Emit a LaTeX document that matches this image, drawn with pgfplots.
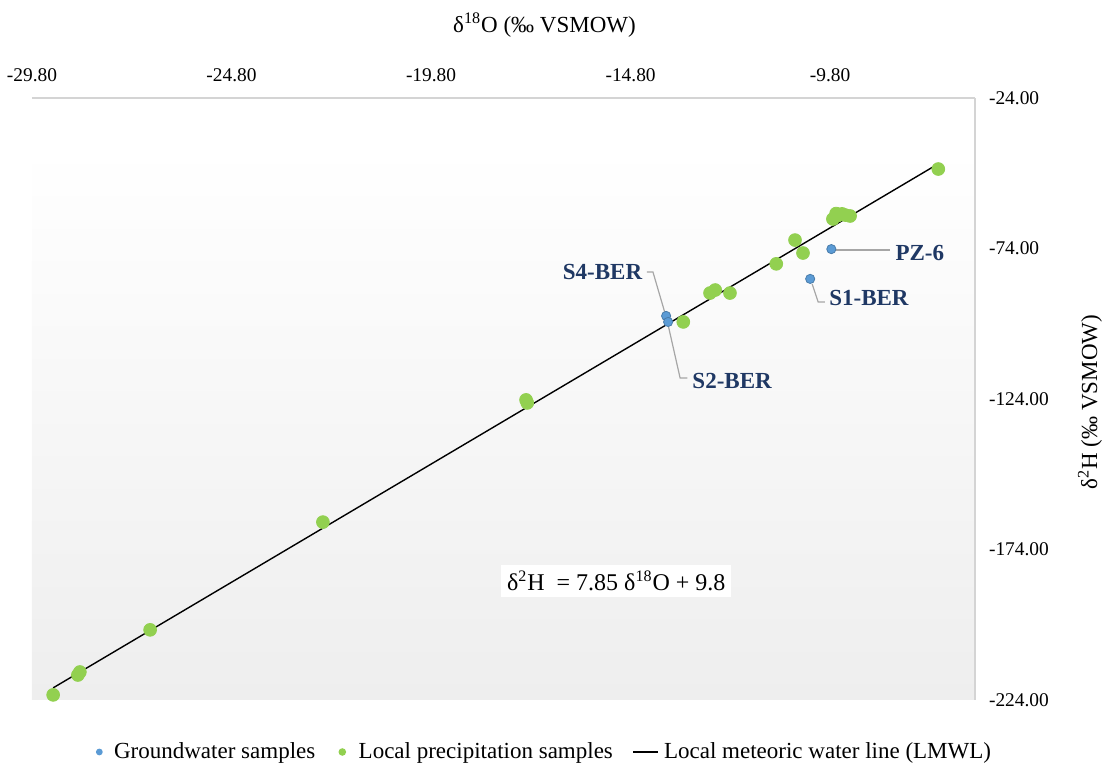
\documentclass[border=0pt]{standalone}
\usepackage{fontspec}
\setmainfont{Liberation Serif}
\usepackage{pgfplots}
\pgfplotsset{compat=1.18}

\definecolor{gwblue}{HTML}{5B9BD5}
\definecolor{prgreen}{HTML}{92D050}
\definecolor{lblnavy}{HTML}{1F3864}
\definecolor{framegray}{HTML}{D4D4D4}
\definecolor{leadergray}{HTML}{A6A6A6}
\definecolor{shadebot}{HTML}{EEEEEE}

\newcommand{\lblfont}{\fontsize{11.5}{13}\selectfont}

\begin{document}
\begin{tikzpicture}
\begin{axis}[
  name=ax,
  scale only axis,
  width=471.5pt, height=301pt,
  xmin=-29.8, xmax=-6.17,
  ymin=-224, ymax=-24,
  axis x line*=top,
  axis y line*=right,
  axis line style={draw=framegray, line width=0.8pt},
  axis on top,
  major tick length=0pt,
  xtick={-29.8,-24.8,-19.8,-14.8,-9.8},
  xticklabels={-29.80,-24.80,-19.80,-14.80,-9.80},
  ytick={-224,-174,-124,-74,-24},
  yticklabels={-224.00,-174.00,-124.00,-74.00,-24.00},
  ticklabel style={font=\fontsize{9.7}{11}\selectfont},
  xticklabel shift=4.8pt,
  yticklabel shift=3.5pt,
  clip=false,
  legend columns=3,
  legend style={at={(0.5,0)}, anchor=center, yshift=-26pt, xshift=21pt,
    draw=none, fill=none, font=\lblfont,
    /tikz/every even column/.append style={column sep=7.7pt}},
]

% plot-area shading
\fill[top color=white, bottom color=shadebot, draw=none]
  (axis cs:-29.8,-40.3) rectangle (axis cs:-6.17,-224);

% groundwater samples
\addplot[only marks, mark=*, mark size=2.3pt,
  mark options={fill=gwblue, draw=gwblue!80!black, line width=0.4pt},
  legend image code/.code={\fill[gwblue, draw=none] (0pt,0pt) circle (1.7pt); \path[draw=none, fill=none] (-1.7pt,0pt) rectangle (5.4pt,0.1pt);}]
  coordinates {
  (-9.77,-74.2)
  (-10.30,-84.1)
  (-13.91,-96.4)
  (-13.86,-98.4)
};
\addlegendentry{Groundwater samples}

% local precipitation samples
\addplot[only marks, mark=*, mark size=3.2pt,
  mark options={fill=prgreen, draw=prgreen},
  legend image code/.code={\fill[prgreen, draw=none] (0pt,0pt) circle (1.9pt); \path[draw=none, fill=none] (-3.8pt,0pt) rectangle (6.2pt,0.1pt);}]
  coordinates {
  (-7.09,-47.6)
  (-9.73,-64.2)
  (-9.65,-62.4)
  (-9.60,-63.0)
  (-9.50,-62.5)
  (-9.42,-62.9)
  (-9.30,-63.2)
  (-10.68,-71.2)
  (-10.48,-75.5)
  (-11.15,-79.1)
  (-12.81,-88.8)
  (-12.68,-87.8)
  (-12.31,-88.8)
  (-13.48,-98.4)
  (-17.42,-124.3)
  (-17.39,-125.3)
  (-22.51,-164.9)
  (-26.84,-200.7)
  (-28.60,-214.7)
  (-28.65,-215.7)
  (-29.27,-222.3)
};
\addlegendentry{Local precipitation samples}

% LMWL: d2H = 7.85 d18O + 9.8
\addplot[black, line width=0.7pt,
  legend image code/.code={\draw[black, line width=0.8pt] (0pt,0pt) -- (12.5pt,0pt); \path[draw=none, fill=none] (12.5pt,0pt) rectangle (13.5pt,0.1pt);}]
  coordinates {(-29.27,-219.97) (-7.09,-45.86)};
\addlegendentry{Local meteoric water line (LMWL)}

% sample labels with leader lines
\draw[leadergray, line width=0.6pt] (axis cs:-9.67,-74.5) -- (axis cs:-8.30,-74.5);
\node[anchor=west, inner sep=0pt, font=\lblfont\bfseries, text=lblnavy] at (axis cs:-8.17,-75.5) {PZ-6};

\draw[leadergray, line width=0.6pt] (axis cs:-10.25,-85.8) -- (axis cs:-10.10,-91.8) -- (axis cs:-9.93,-91.8);
\node[anchor=west, inner sep=0pt, font=\lblfont\bfseries, text=lblnavy] at (axis cs:-9.83,-90.4) {S1-BER};

\draw[leadergray, line width=0.6pt] (axis cs:-14.39,-81.8) -- (axis cs:-14.24,-81.8) -- (axis cs:-13.94,-95.4);
\node[anchor=east, inner sep=0pt, font=\lblfont\bfseries, text=lblnavy] at (axis cs:-14.50,-81.8) {S4-BER};

\draw[leadergray, line width=0.6pt] (axis cs:-13.86,-99.4) -- (axis cs:-13.56,-117.0) -- (axis cs:-13.38,-117.0);
\node[anchor=west, inner sep=0pt, font=\lblfont\bfseries, text=lblnavy] at (axis cs:-13.26,-118.0) {S2-BER};

% regression equation
\node[fill=white, inner sep=3pt, font=\fontsize{12}{14}\selectfont] at (axis cs:-15.16,-184.5)
  {δ\textsuperscript{2}H\ \ = 7.85 δ\textsuperscript{18}O + 9.8};
\end{axis}

% axis titles
\node[font=\lblfont] at ([xshift=20.5pt,yshift=36.5pt]ax.north) {δ\textsuperscript{18}O (‰ VSMOW)};
\node[font=\lblfont, rotate=90] at ([xshift=57.5pt,yshift=-1.5pt]ax.east) {δ\textsuperscript{2}H (‰ VSMOW)};

\pgfresetboundingbox
\path[use as bounding box] ([xshift=-16pt,yshift=-32.5pt]ax.south west) rectangle ([xshift=65pt,yshift=49pt]ax.north east);
\end{tikzpicture}
\end{document}
